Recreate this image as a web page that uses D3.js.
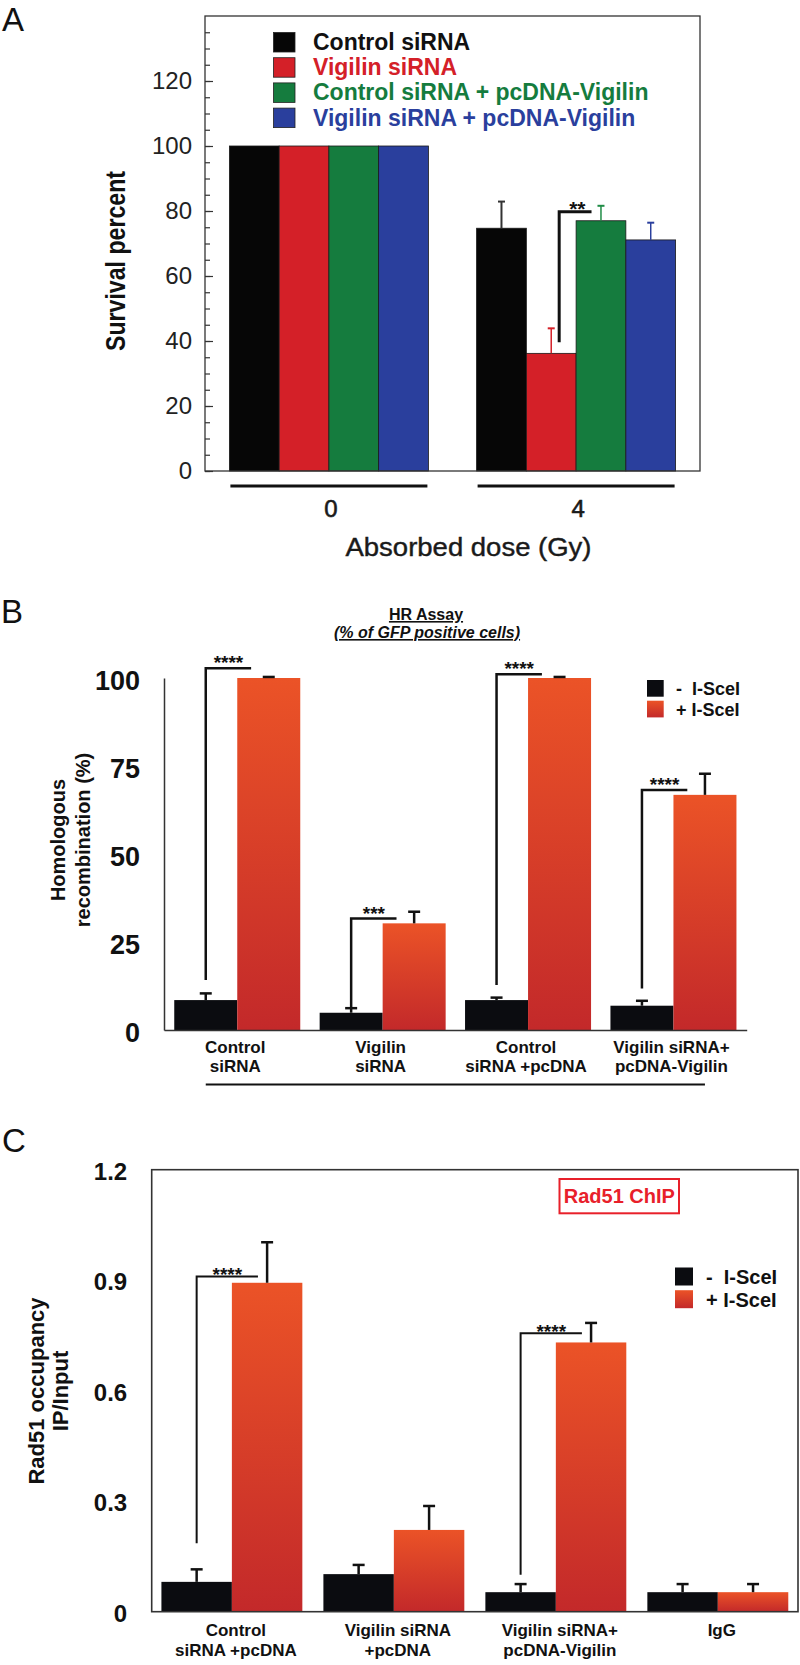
<!DOCTYPE html>
<html>
<head>
<meta charset="utf-8">
<script src="https://cdn.jsdelivr.net/npm/d3@7"></script>
<style>
  body { margin: 0; background: #fff; }
  svg { display: block; }
  text { font-family: "Liberation Sans", Arial, Helvetica, sans-serif; }
</style>
</head>
<body>
<svg id="chart" width="800" height="1665"></svg>
<script>
// ================= DATA =================
// Panel A – survival
const doseCategories = ["0", "4"];
const survivalSeries = ["Control siRNA", "Vigilin siRNA", "Control siRNA + pcDNA-Vigilin", "Vigilin siRNA + pcDNA-Vigilin"];
const survivalDose0 = [100, 100, 100, 100];
const survivalDose4 = [74.7, 36.2, 77.0, 71.1];
const survivalErr0 = [0, 0, 0, 0];
const survivalErr4 = [8.2, 7.7, 4.6, 5.3];
const survivalTicks = [0, 20, 40, 60, 80, 100, 120];

// Panel B – HR assay
const hrCategories = ["Control siRNA", "Vigilin siRNA", "Control siRNA +pcDNA", "Vigilin siRNA+ pcDNA-Vigilin"];
const hrLabelLines = [["Control", "siRNA"], ["Vigilin", "siRNA"], ["Control", "siRNA +pcDNA"], ["Vigilin siRNA+", "pcDNA-Vigilin"]];
const treatments = ["-  I-SceI", "+ I-SceI"];
const hrMinus = [8.5, 4.9, 8.5, 6.9];
const hrMinusErr = [1.9, 1.3, 0.7, 1.4];
const hrPlus = [100, 30.3, 100, 66.8];
const hrPlusErr = [0.3, 3.3, 0.3, 6.0];
const hrTicks = [0, 25, 50, 75, 100];
const hrSignif = [
  { group: 0, top: 102.8, bottom: 14.2, label: "****" },
  { group: 1, top: 31.7, bottom: 6.3, label: "***" },
  { group: 2, top: 101.1, bottom: 12.8, label: "****" },
  { group: 3, top: 68.2, bottom: 11.8, label: "****" }
];

// Panel C – Rad51 ChIP
const chipCategories = ["Control siRNA +pcDNA", "Vigilin siRNA +pcDNA", "Vigilin siRNA+ pcDNA-Vigilin", "IgG"];
const chipLabelLines = [["Control", "siRNA +pcDNA"], ["Vigilin siRNA", "+pcDNA"], ["Vigilin siRNA+", "pcDNA-Vigilin"], ["IgG"]];
const chipMinus = [0.081, 0.102, 0.053, 0.053];
const chipMinusErr = [0.034, 0.025, 0.022, 0.022];
const chipPlus = [0.893, 0.222, 0.731, 0.053];
const chipPlusErr = [0.110, 0.065, 0.053, 0.022];
const chipTicks = [0, 0.3, 0.6, 0.9, 1.2];
const chipTickLabels = ["0", "0.3", "0.6", "0.9", "1.2"];
const chipSignif = [
  { group: 0, top: 0.910, bottom: 0.186, label: "****" },
  { group: 2, top: 0.756, bottom: 0.100, label: "****" }
];

// ================= STYLE =================
const survivalColors = ["#060606", "#d42028", "#157c3e", "#2a3f9d"];
const survivalErrColors = ["#333333", "#d42028", "#1f8c46", "#2a3f9d"];
const FONT = '"Liberation Sans", Arial, Helvetica, sans-serif';

// ================= DRAW =================
const svg = d3.select("#chart");
svg.append("rect").attr("width", 800).attr("height", 1665).attr("fill", "#fff");

const defs = svg.append("defs");
const grad = defs.append("linearGradient").attr("id", "redGrad")
  .attr("x1", 0).attr("y1", 0).attr("x2", 0).attr("y2", 1);
grad.append("stop").attr("offset", "0%").attr("stop-color", "#eb5327");
grad.append("stop").attr("offset", "100%").attr("stop-color", "#c3292a");

function starBase(centerY, fs) { return centerY + 0.58 * fs; }

// Panel letters
svg.append("text").attr("x", 2).attr("y", 31).attr("font-size", 33).attr("fill", "#111").text("A");
svg.append("text").attr("x", 1).attr("y", 623).attr("font-size", 33).attr("fill", "#111").text("B");
svg.append("text").attr("x", 2).attr("y", 1152).attr("font-size", 33).attr("fill", "#111").text("C");

// ---------------- Panel A ----------------
(function () {
  const f = { x0: 205, x1: 700, y0: 16, y1: 471 };
  const x = d3.scaleBand().domain(doseCategories).range([f.x0, f.x1]).paddingInner(0.195).paddingOuter(0.0987);
  const xi = d3.scaleBand().domain(survivalSeries).range([0, x.bandwidth()]);
  const y = d3.scaleLinear().domain([0, 140]).range([f.y1, f.y0]);
  const values = [survivalDose0, survivalDose4];
  const errs = [survivalErr0, survivalErr4];
  const data = doseCategories.flatMap((d, i) => survivalSeries.map((s, j) => ({ dose: d, series: s, j, value: values[i][j], err: errs[i][j] })));
  const g = svg.append("g");

  g.selectAll("rect.bar").data(data).join("rect").attr("class", "bar")
    .attr("x", d => x(d.dose) + xi(d.series))
    .attr("y", d => y(d.value))
    .attr("width", xi.bandwidth())
    .attr("height", d => y(0) - y(d.value))
    .attr("fill", d => survivalColors[d.j])
    .attr("stroke", "#1a1a1a").attr("stroke-width", 0.8);

  const eb = data.filter(d => d.err > 0);
  g.selectAll("line.ev").data(eb).join("line")
    .attr("x1", d => x(d.dose) + xi(d.series) + xi.bandwidth() / 2)
    .attr("x2", d => x(d.dose) + xi(d.series) + xi.bandwidth() / 2)
    .attr("y1", d => y(d.value)).attr("y2", d => y(d.value + d.err))
    .attr("stroke", d => survivalErrColors[d.j]).attr("stroke-width", d => d.j === 0 ? 2 : 1.5);
  g.selectAll("line.ec").data(eb).join("line")
    .attr("x1", d => x(d.dose) + xi(d.series) + xi.bandwidth() / 2 - 3.5)
    .attr("x2", d => x(d.dose) + xi(d.series) + xi.bandwidth() / 2 + 3.5)
    .attr("y1", d => y(d.value + d.err)).attr("y2", d => y(d.value + d.err))
    .attr("stroke", d => survivalErrColors[d.j]).attr("stroke-width", 2);

  // ticks
  g.append("g").attr("transform", `translate(${f.x0},0)`)
    .call(d3.axisRight(y).tickValues(d3.range(0, 140, 5)).tickSize(5).tickFormat(""))
    .call(a => a.select(".domain").remove())
    .call(a => a.selectAll("line").attr("stroke", "#333").attr("stroke-width", 1.2));
  g.append("g").attr("transform", `translate(${f.x0},0)`)
    .call(d3.axisLeft(y).tickValues(survivalTicks).tickSize(-8).tickPadding(13).tickFormat(d3.format("d")))
    .call(a => a.select(".domain").remove())
    .call(a => a.selectAll("line").attr("stroke", "#333").attr("stroke-width", 1.2))
    .call(a => a.selectAll("text").attr("font-family", FONT).attr("font-size", 24).attr("fill", "#222"));

  // frame
  g.append("rect").attr("x", f.x0).attr("y", f.y0).attr("width", f.x1 - f.x0).attr("height", f.y1 - f.y0)
    .attr("fill", "none").attr("stroke", "#333").attr("stroke-width", 1.3);

  // significance bracket (Vigilin siRNA vs Control siRNA + pcDNA-Vigilin at 4 Gy)
  const bw = xi.bandwidth();
  const bl = x("4") + xi(survivalSeries[1]) + 0.66 * bw;
  const br = x("4") + xi(survivalSeries[2]) + 0.31 * bw;
  g.append("path").attr("d", `M${bl},${y(39.6)}V${y(79.8)}H${br}`)
    .attr("fill", "none").attr("stroke", "#111").attr("stroke-width", 3);
  g.append("text").attr("x", (bl + br) / 2 + 2).attr("y", starBase(y(79.8) - 7.7, 21))
    .attr("text-anchor", "middle").attr("font-size", 21).attr("font-weight", "bold").attr("fill", "#111").text("**");

  // legend
  const lg = g.append("g");
  survivalSeries.forEach((s, j) => {
    lg.append("rect").attr("x", 273.5).attr("y", 32.5 + j * 25.2).attr("width", 21.5).attr("height", 19.5)
      .attr("fill", survivalColors[j]).attr("stroke", "#222").attr("stroke-width", 0.8);
    lg.append("text").attr("x", 313).attr("y", 50 + j * 25.2).attr("font-size", 23).attr("font-weight", "bold")
      .attr("fill", j === 0 ? "#111" : survivalColors[j]).text(s);
  });

  // group lines and labels
  doseCategories.forEach(d => {
    g.append("line").attr("x1", x(d) + 1).attr("x2", x(d) + x.bandwidth() - 1)
      .attr("y1", 486).attr("y2", 486).attr("stroke", "#111").attr("stroke-width", 3);
    g.append("text").attr("x", x(d) + x.bandwidth() / 2 + 2).attr("y", 517)
      .attr("text-anchor", "middle").attr("font-size", 24).attr("fill", "#1a1a1a")
      .attr("stroke", "#1a1a1a").attr("stroke-width", 0.6).text(d);
  });
  g.append("text").attr("x", (f.x0 + f.x1) / 2 + 16).attr("y", 556)
    .attr("text-anchor", "middle").attr("font-size", 25).attr("fill", "#1a1a1a")
    .attr("stroke", "#1a1a1a").attr("stroke-width", 0.4)
    .attr("textLength", 246).attr("lengthAdjust", "spacingAndGlyphs").text("Absorbed dose (Gy)");
  g.append("text").attr("transform", "translate(125,261) rotate(-90)")
    .attr("text-anchor", "middle").attr("font-size", 28).attr("font-weight", "bold").attr("fill", "#111")
    .attr("textLength", 180).attr("lengthAdjust", "spacingAndGlyphs").text("Survival percent");
})();

// ---------------- Paired panels (B, C) ----------------
function drawBars(g, x, xi, y, cats, minus, minusErr, plus, plusErr) {
  const data = cats.flatMap((c, i) => [
    { cat: c, t: treatments[0], k: 0, value: minus[i], err: minusErr[i] },
    { cat: c, t: treatments[1], k: 1, value: plus[i], err: plusErr[i] }
  ]);
  g.selectAll("rect.bar").data(data).join("rect").attr("class", "bar")
    .attr("x", d => x(d.cat) + xi(d.t))
    .attr("y", d => y(d.value))
    .attr("width", xi.bandwidth())
    .attr("height", d => y(0) - y(d.value))
    .attr("fill", d => d.k === 0 ? "#0b0c10" : "url(#redGrad)");
  const cx = d => x(d.cat) + xi(d.t) + xi.bandwidth() / 2;
  g.selectAll("line.ev").data(data).join("line").attr("class", "ev")
    .attr("x1", cx).attr("x2", cx)
    .attr("y1", d => y(d.value)).attr("y2", d => y(d.value + d.err))
    .attr("stroke", "#111").attr("stroke-width", 2.5);
  g.selectAll("line.ec").data(data).join("line").attr("class", "ec")
    .attr("x1", d => cx(d) - 6).attr("x2", d => cx(d) + 6)
    .attr("y1", d => y(d.value + d.err)).attr("y2", d => y(d.value + d.err))
    .attr("stroke", "#111").attr("stroke-width", 2.5);
}

function drawSignif(g, x, xi, y, cats, list, rightFrac, starOffset, starSize, lw) {
  list.forEach(s => {
    const c = cats[s.group];
    const l = x(c) + xi(treatments[0]) + xi.bandwidth() / 2;
    const r = x(c) + xi(treatments[1]) + rightFrac * xi.bandwidth();
    g.append("path").attr("d", `M${l},${y(s.bottom)}V${y(s.top)}H${r}`)
      .attr("fill", "none").attr("stroke", "#111").attr("stroke-width", lw);
    g.append("text").attr("x", (l + r) / 2).attr("y", starBase(y(s.top) - starOffset, starSize))
      .attr("text-anchor", "middle").attr("font-size", starSize).attr("font-weight", "bold").attr("fill", "#111").text(s.label);
  });
}

function drawLegend(g, x0, y0, sw, gap, tx, fs) {
  treatments.forEach((t, k) => {
    g.append("rect").attr("x", x0).attr("y", y0 + k * gap).attr("width", sw).attr("height", sw)
      .attr("fill", k === 0 ? "#0b0c10" : "url(#redGrad)");
    g.append("text").attr("x", tx).attr("y", y0 + k * gap + sw - 1.5)
      .attr("font-size", fs).attr("font-weight", "bold").attr("fill", "#111")
      .style("white-space", "pre").text(t);
  });
}

// ---------------- Panel B ----------------
(function () {
  const f = { x0: 164, x1: 746.7, y0: 678, y1: 1030 };
  const x = d3.scaleBand().domain(hrCategories).range([f.x0, f.x1]).paddingInner(0.1334).paddingOuter(0.0705);
  const xi = d3.scaleBand().domain(treatments).range([0, x.bandwidth()]);
  const y = d3.scaleLinear().domain([0, 100]).range([f.y1, f.y0]);
  const g = svg.append("g");

  drawBars(g, x, xi, y, hrCategories, hrMinus, hrMinusErr, hrPlus, hrPlusErr);

  g.append("g").attr("transform", `translate(${f.x0},0)`)
    .call(d3.axisLeft(y).tickValues(hrTicks).tickSize(0).tickSizeOuter(0).tickPadding(24).tickFormat(d3.format("d")))
    .call(a => a.select(".domain").attr("stroke", "#333").attr("stroke-width", 1.5))
    .call(a => a.selectAll("text").attr("font-family", FONT).attr("font-size", 27).attr("font-weight", "bold")
      .attr("fill", "#111").attr("dy", "0.42em"));
  g.append("g").attr("transform", `translate(0,${f.y1})`)
    .call(d3.axisBottom(x).tickSize(0).tickSizeOuter(0).tickFormat(""))
    .call(a => a.select(".domain").attr("stroke", "#333").attr("stroke-width", 1.5));

  drawSignif(g, x, xi, y, hrCategories, hrSignif, 0.22, 9.8, 19, 2.5);

  hrCategories.forEach((c, i) => {
    const t = g.append("text").attr("text-anchor", "middle").attr("font-size", 17).attr("font-weight", "bold").attr("fill", "#111");
    hrLabelLines[i].forEach((ln, k) => t.append("tspan").attr("x", x(c) + x.bandwidth() / 2 - 2).attr("y", f.y1 + 23 + k * 19.3).text(ln));
  });
  const c0 = hrCategories[0], c3 = hrCategories[3];
  g.append("line")
    .attr("x1", x(c0) + xi(treatments[0]) + xi.bandwidth() / 2)
    .attr("x2", x(c3) + xi(treatments[1]) + xi.bandwidth() / 2)
    .attr("y1", 1084.5).attr("y2", 1084.5).attr("stroke", "#111").attr("stroke-width", 2);

  drawLegend(g, 647, 680, 16.7, 20.7, 676, 18);

  g.append("text").attr("x", 426).attr("y", 620).attr("text-anchor", "middle").attr("font-size", 16)
    .attr("font-weight", "bold").attr("fill", "#111").attr("text-decoration", "underline").text("HR Assay");
  g.append("text").attr("x", 427).attr("y", 638).attr("text-anchor", "middle").attr("font-size", 16)
    .attr("font-weight", "bold").attr("font-style", "italic").attr("fill", "#111").attr("text-decoration", "underline")
    .text("(% of GFP positive cells)");

  g.append("text").attr("transform", "translate(65,840) rotate(-90)").attr("text-anchor", "middle")
    .attr("font-size", 20).attr("font-weight", "bold").attr("fill", "#111").text("Homologous");
  g.append("text").attr("transform", "translate(90,840) rotate(-90)").attr("text-anchor", "middle")
    .attr("font-size", 20).attr("font-weight", "bold").attr("fill", "#111").text("recombination (%)");
})();

// ---------------- Panel C ----------------
(function () {
  const f = { x0: 151.7, x1: 798, y0: 1169.7, y1: 1611.7 };
  const x = d3.scaleBand().domain(chipCategories).range([f.x0, f.x1]).paddingInner(0.13).paddingOuter(0.06);
  const xi = d3.scaleBand().domain(treatments).range([0, x.bandwidth()]);
  const y = d3.scaleLinear().domain([0, 1.2]).range([f.y1, f.y0]);
  const g = svg.append("g");

  drawBars(g, x, xi, y, chipCategories, chipMinus, chipMinusErr, chipPlus, chipPlusErr);

  g.append("g").attr("transform", `translate(${f.x0},0)`)
    .call(d3.axisLeft(y).tickValues(chipTicks).tickSize(0).tickPadding(24.5).tickFormat((d, i) => chipTickLabels[i]))
    .call(a => a.select(".domain").remove())
    .call(a => a.selectAll("text").attr("font-family", FONT).attr("font-size", 24).attr("font-weight", "bold")
      .attr("fill", "#111").attr("dy", "0.4em"));

  g.append("rect").attr("x", f.x0).attr("y", f.y0).attr("width", f.x1 - f.x0).attr("height", f.y1 - f.y0)
    .attr("fill", "none").attr("stroke", "#333").attr("stroke-width", 1.6);

  drawSignif(g, x, xi, y, chipCategories, chipSignif, 0.37, 6.7, 19, 2);

  chipCategories.forEach((c, i) => {
    const t = g.append("text").attr("text-anchor", "middle").attr("font-size", 17).attr("font-weight", "bold").attr("fill", "#111");
    chipLabelLines[i].forEach((ln, k) => t.append("tspan").attr("x", x(c) + x.bandwidth() / 2 + 4).attr("y", f.y1 + 24 + k * 20).text(ln));
  });

  drawLegend(g, 675, 1267.5, 18, 22.7, 706, 20);

  g.append("rect").attr("x", 559.5).attr("y", 1179).attr("width", 119.5).attr("height", 34.3)
    .attr("fill", "#fff").attr("stroke", "#e8202a").attr("stroke-width", 2);
  g.append("text").attr("x", 619.3).attr("y", 1203.3).attr("text-anchor", "middle").attr("font-size", 20)
    .attr("font-weight", "bold").attr("fill", "#e8202a").text("Rad51 ChIP");

  g.append("text").attr("transform", "translate(43.5,1391) rotate(-90)").attr("text-anchor", "middle")
    .attr("font-size", 22).attr("font-weight", "bold").attr("fill", "#111").text("Rad51 occupancy");
  g.append("text").attr("transform", "translate(68,1391) rotate(-90)").attr("text-anchor", "middle")
    .attr("font-size", 22).attr("font-weight", "bold").attr("fill", "#111").text("IP/Input");
})();
</script>
</body>
</html>
